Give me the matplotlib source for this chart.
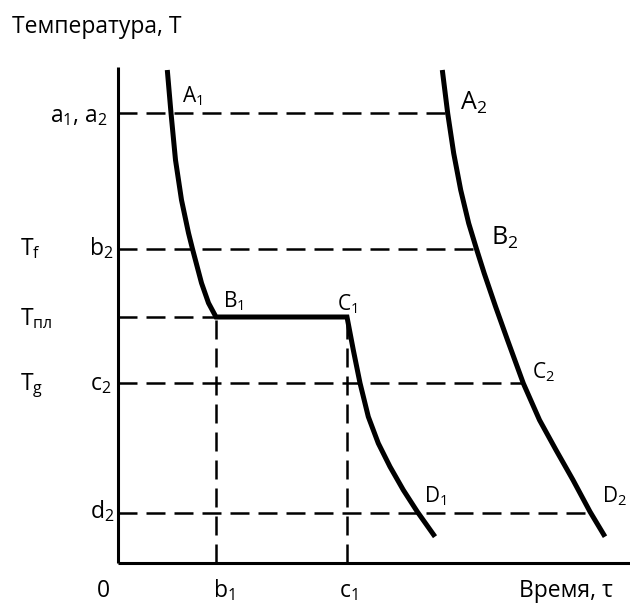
import matplotlib
matplotlib.use('Agg')
import matplotlib.pyplot as plt

plt.rcParams['font.family'] = ['Open Sans', 'DejaVu Sans']
plt.rcParams['mathtext.fontset'] = 'custom'
plt.rcParams['mathtext.rm'] = 'Open Sans'
plt.rcParams['mathtext.it'] = 'Open Sans'

# temperature levels
T_a = 45.0
T_f = 31.4
T_pl = 24.6
T_g = 18.0
T_d = 5.0

# time marks
tau_b1 = 9.8
tau_c1 = 22.9

# curve 1 (crystalline: A1 -> B1 -> C1 -> D1)
curve1_tau = [4.93, 5.3, 5.75, 6.35, 7.05, 7.45, 8.35, 9.05, 9.8,
              22.9, 23.53, 24.2, 25.03, 26.03, 27.2, 28.53, 29.93, 31.7]
curve1_T = [49.3, 45.0, 40.3, 36.3, 33.0, 31.4, 28.0, 26.0, 24.6,
            24.6, 21.3, 18.0, 14.63, 11.97, 9.63, 7.3, 5.13, 2.63]

# curve 2 (amorphous: A2 -> B2 -> C2 -> D2)
curve2_tau = [32.43, 32.97, 33.57, 34.27, 35.07, 35.85, 36.62, 37.76,
              38.95, 40.53, 42.15, 43.8, 45.5, 47.2, 48.7]
curve2_T = [49.3, 44.97, 40.97, 37.3, 33.97, 31.4, 28.97, 25.63,
            22.3, 17.97, 14.3, 11.3, 8.3, 5.13, 2.63]

# dashed guide lines end at curve 2
guide_T = [T_a, T_f, T_g, T_d]
guide_end = [33.0, 35.9, 40.5, 47.0]

fig = plt.figure(figsize=(6.3, 6.08), dpi=100)
ax = fig.add_axes([0, 0, 1, 1])
ax.set_xlim(-11.8, 51.2)
ax.set_ylim(-4.5, 56.3)
ax.axis('off')

dash = dict(color='black', linewidth=1.8, dashes=(7.6, 3.6))

# axes lines
ax.plot([0, 0], [0, 49.6], color='black', linewidth=2.2, solid_capstyle='butt')
ax.plot([0, 51.2], [0, 0], color='black', linewidth=2.2, solid_capstyle='butt')

for T, end in zip(guide_T, guide_end):
    ax.plot([0, end], [T, T], **dash)
ax.plot([0, tau_b1], [T_pl, T_pl], **dash)
ax.plot([tau_b1, tau_b1], [0, T_pl], **dash)
ax.plot([tau_c1, tau_c1], [0, T_pl], **dash)

ax.plot(curve1_tau, curve1_T, color='black', linewidth=3.6,
        solid_joinstyle='miter', solid_capstyle='butt')
ax.plot(curve2_tau, curve2_T, color='black', linewidth=3.6,
        solid_joinstyle='round', solid_capstyle='butt')

fs = 16.5
ax.text(-10.6, 53.0, 'Температура, Т', fontsize=fs, ha='left', va='baseline')
ax.text(40.1, -3.4, 'Время, τ', fontsize=fs, ha='left', va='baseline')
ax.text(-1.5, -3.4, '0', fontsize=fs, ha='center', va='baseline')
ax.text(9.5, -3.4, r'b$_{\rm 1}$', fontsize=fs, ha='left', va='baseline')
ax.text(22.1, -3.4, r'c$_{\rm 1}$', fontsize=fs, ha='left', va='baseline')

ax.text(-1.0, 44.1, r'a$_{\rm 1}$, a$_{\rm 2}$', fontsize=fs, ha='right', va='baseline')
ax.text(-0.5, 30.8, r'b$_{\rm 2}$', fontsize=fs, ha='right', va='baseline')
ax.text(-0.7, 17.3, r'c$_{\rm 2}$', fontsize=fs, ha='right', va='baseline')
ax.text(-0.4, 4.5, r'd$_{\rm 2}$', fontsize=fs, ha='right', va='baseline')

ax.text(-9.8, 30.8, r'T$_{\rm f}$', fontsize=fs, ha='left', va='baseline')
ax.text(-9.8, 23.8, r'T$_{\rm пл}$', fontsize=fs, ha='left', va='baseline')
ax.text(-9.8, 17.3, r'T$_{\rm g}$', fontsize=fs, ha='left', va='baseline')

fs_pt = 15
ax.text(6.4, 46.1, r'A$_{\rm 1}$', fontsize=fs_pt, ha='left', va='baseline')
ax.text(10.5, 25.6, r'B$_{\rm 1}$', fontsize=fs_pt, ha='left', va='baseline')
ax.text(21.9, 25.3, r'C$_{\rm 1}$', fontsize=fs_pt, ha='left', va='baseline')
ax.text(30.6, 6.1, r'D$_{\rm 1}$', fontsize=fs_pt, ha='left', va='baseline')
ax.text(41.4, 18.5, r'C$_{\rm 2}$', fontsize=fs_pt, ha='left', va='baseline')
ax.text(48.4, 6.1, r'D$_{\rm 2}$', fontsize=fs_pt, ha='left', va='baseline')
ax.text(34.2, 45.3, r'A$_{\rm 2}$', fontsize=18, ha='left', va='baseline')
ax.text(37.3, 31.8, r'B$_{\rm 2}$', fontsize=18, ha='left', va='baseline')

fig.savefig('out.png', dpi=100)
